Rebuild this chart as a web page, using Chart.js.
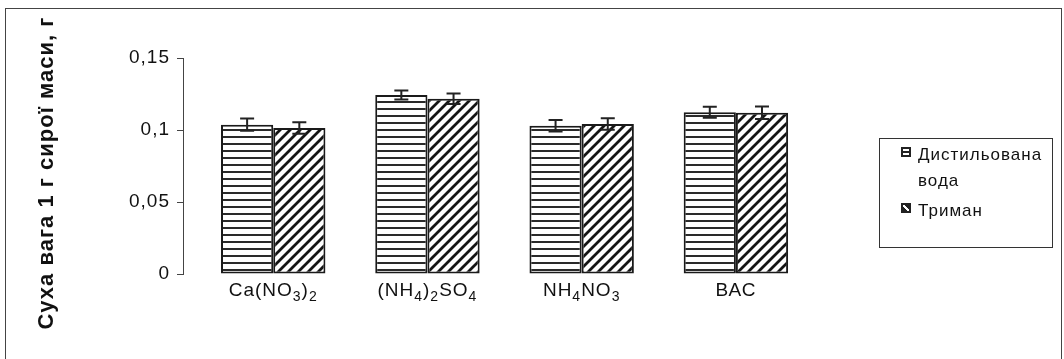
<!DOCTYPE html>
<html>
<head>
<meta charset="utf-8">
<script src="https://cdn.jsdelivr.net/npm/chart.js@4"></script>
<style>
  body { margin: 0; background: #fff; overflow: hidden; }
  #wrap { position: relative; width: 1064px; height: 359px; }
  #frame { position: absolute; left: 5px; top: 8px; width: 1055px; height: 400px;
    border: 1.5px solid #444; pointer-events: none; }
  #legend { position: absolute; left: 879px; top: 138px; width: 174px; height: 110px;
    border: 1px solid #333; box-sizing: border-box; padding: 3px 4px 0 38px;
    font-family: "Liberation Sans", Arial, sans-serif; font-size: 17px; line-height: 26px;
    letter-spacing: 1px; color: #111; }
  #legend .item { position: relative; margin-bottom: 4px; }
  #legend .icon { position: absolute; left: -17px; top: 5px; width: 10px; height: 10px; box-sizing: border-box; }
  .icon.h { border: 2px solid #222; background: linear-gradient(#222, #222) center / 100% 2px no-repeat #fff; }
  .icon.d { border: 2px solid #222; background: linear-gradient(to top right, #222 40%, #fff 40%, #fff 62%, #222 62%); }
</style>
</head>
<body>
<div id="wrap">
  <canvas id="chart" width="1064" height="359"></canvas>
  <div id="frame"></div>
  <div id="legend"></div>
</div>
<script>
const categories = ['Ca(NO₃)₂', '(NH₄)₂SO₄', 'NH₄NO₃', 'ВАС'];
const seriesNames = ['Дистильована вода', 'Триман'];
const distValues = [0.1037, 0.1243, 0.1030, 0.1123];
const distErrors = [0.0042, 0.0031, 0.0040, 0.0038];
const trimanValues = [0.1014, 0.1217, 0.1042, 0.1120];
const trimanErrors = [0.0040, 0.0037, 0.0040, 0.0044];
const yTicks = [0, 0.05, 0.1, 0.15];

const FONT = '"Liberation Sans", Arial, sans-serif';
const SUBS = '₀₁₂₃₄₅₆₇₈₉';

function stripes(kind) {
  const c = document.createElement('canvas');
  const g = c.getContext('2d');
  if (kind === 'h') {
    c.width = 8; c.height = 7;
    g.fillStyle = '#fff'; g.fillRect(0, 0, 8, 7);
    g.fillStyle = '#2a2a2a'; g.fillRect(0, 3, 8, 2);
  } else {
    const s = 10;
    c.width = s; c.height = s;
    g.fillStyle = '#fff'; g.fillRect(0, 0, s, s);
    g.strokeStyle = '#151515'; g.lineWidth = 2.8;
    g.beginPath();
    g.moveTo(-1, s + 1); g.lineTo(s + 1, -1);
    g.moveTo(-1, 1); g.lineTo(1, -1);
    g.moveTo(s - 1, s + 1); g.lineTo(s + 1, s - 1);
    g.stroke();
  }
  return g.createPattern(c, 'repeat');
}

const spacing = {
  id: 'spacing',
  beforeUpdate(chart) { chart.ctx.letterSpacing = '1px'; },
  beforeDraw(chart) { chart.ctx.letterSpacing = '1px'; }
};

const errorBars = {
  id: 'errorBars',
  afterDatasetsDraw(chart) {
    const ctx = chart.ctx, y = chart.scales.y;
    ctx.save();
    ctx.strokeStyle = '#222';
    ctx.lineWidth = 2;
    chart.data.datasets.forEach((ds, i) => {
      chart.getDatasetMeta(i).data.forEach((bar, j) => {
        const v = ds.data[j].y, e = ds.errors[j];
        const top = y.getPixelForValue(v + e), bot = y.getPixelForValue(v - e);
        ctx.beginPath();
        ctx.moveTo(bar.x, top); ctx.lineTo(bar.x, bot);
        ctx.moveTo(bar.x - 7, top); ctx.lineTo(bar.x + 7, top);
        ctx.moveTo(bar.x - 7, bot); ctx.lineTo(bar.x + 7, bot);
        ctx.stroke();
      });
    });
    ctx.restore();
  }
};

// category labels with real subscripts (chemical formulas)
const formulaLabels = {
  id: 'formulaLabels',
  afterDraw(chart) {
    const ctx = chart.ctx, x = chart.scales.x;
    const baseY = x.top + 21.5;
    ctx.save();
    ctx.fillStyle = '#111';
    ctx.textBaseline = 'alphabetic';
    ctx.textAlign = 'left';
    categories.forEach((label, i) => {
      const parts = [];
      for (const ch of label) {
        const k = SUBS.indexOf(ch);
        const sub = k >= 0;
        const t = sub ? String(k) : ch;
        const last = parts[parts.length - 1];
        if (last && last.sub === sub) last.t += t; else parts.push({ t, sub });
      }
      let w = 0;
      parts.forEach(p => {
        ctx.font = (p.sub ? '14px ' : '19px ') + FONT;
        p.w = ctx.measureText(p.t).width;
        w += p.w;
      });
      let cx = x.getPixelForValue(i) - w / 2;
      parts.forEach(p => {
        ctx.font = (p.sub ? '14px ' : '19px ') + FONT;
        ctx.fillText(p.t, cx, baseY + (p.sub ? 5 : 0));
        cx += p.w;
      });
    });
    ctx.restore();
  }
};

const chart = new Chart(document.getElementById('chart'), {
  type: 'bar',
  data: {
    labels: categories,
    datasets: [
      { label: seriesNames[0], data: distValues.map((y, x) => ({ x, y })), errors: distErrors, backgroundColor: stripes('h'), icon: 'h' },
      { label: seriesNames[1], data: trimanValues.map((y, x) => ({ x, y })), errors: trimanErrors, backgroundColor: stripes('d'), icon: 'd' }
    ]
  },
  options: {
    responsive: false,
    animation: false,
    layout: { padding: { top: 58, right: 251, bottom: 0, left: 34 } },
    datasets: {
      bar: { borderColor: '#1a1a1a', borderWidth: 2, borderSkipped: false, categoryPercentage: 0.677, barPercentage: 1 }
    },
    plugins: { legend: { display: false }, tooltip: { enabled: false } },
    scales: {
      x: {
        type: 'linear', min: -0.585, max: 3.5, offset: false,
        afterBuildTicks(scale) { scale.ticks = categories.map((_, i) => ({ value: i })); },
        grid: { display: false },
        border: { display: false },
        ticks: { display: false },
        afterFit(scale) { scale.height = 85; }
      },
      y: {
        min: 0, max: 0.15,
        afterBuildTicks(scale) { scale.ticks = yTicks.map(v => ({ value: v })); },
        grid: { drawOnChartArea: false, tickLength: 6, color: '#444' },
        border: { color: '#444', width: 1 },
        ticks: {
          color: '#111', padding: 7, font: { family: FONT, size: 19 },
          callback: v => String(Number(v.toFixed(2))).replace('.', ',')
        },
        title: {
          display: true, text: 'Суха вага 1 г сирої маси, г\u00a0\u00a0', color: '#111', padding: 0,
          font: { family: FONT, size: 22, weight: 'bold', lineHeight: 1.2 }
        },
        afterFit(scale) { scale.width = 149; }
      }
    }
  },
  plugins: [spacing, errorBars, formulaLabels]
});

document.getElementById('legend').innerHTML = chart.data.datasets
  .map(ds => '<div class="item"><span class="icon ' + ds.icon + '"></span>' + ds.label + '</div>')
  .join('');
</script>
</body>
</html>
